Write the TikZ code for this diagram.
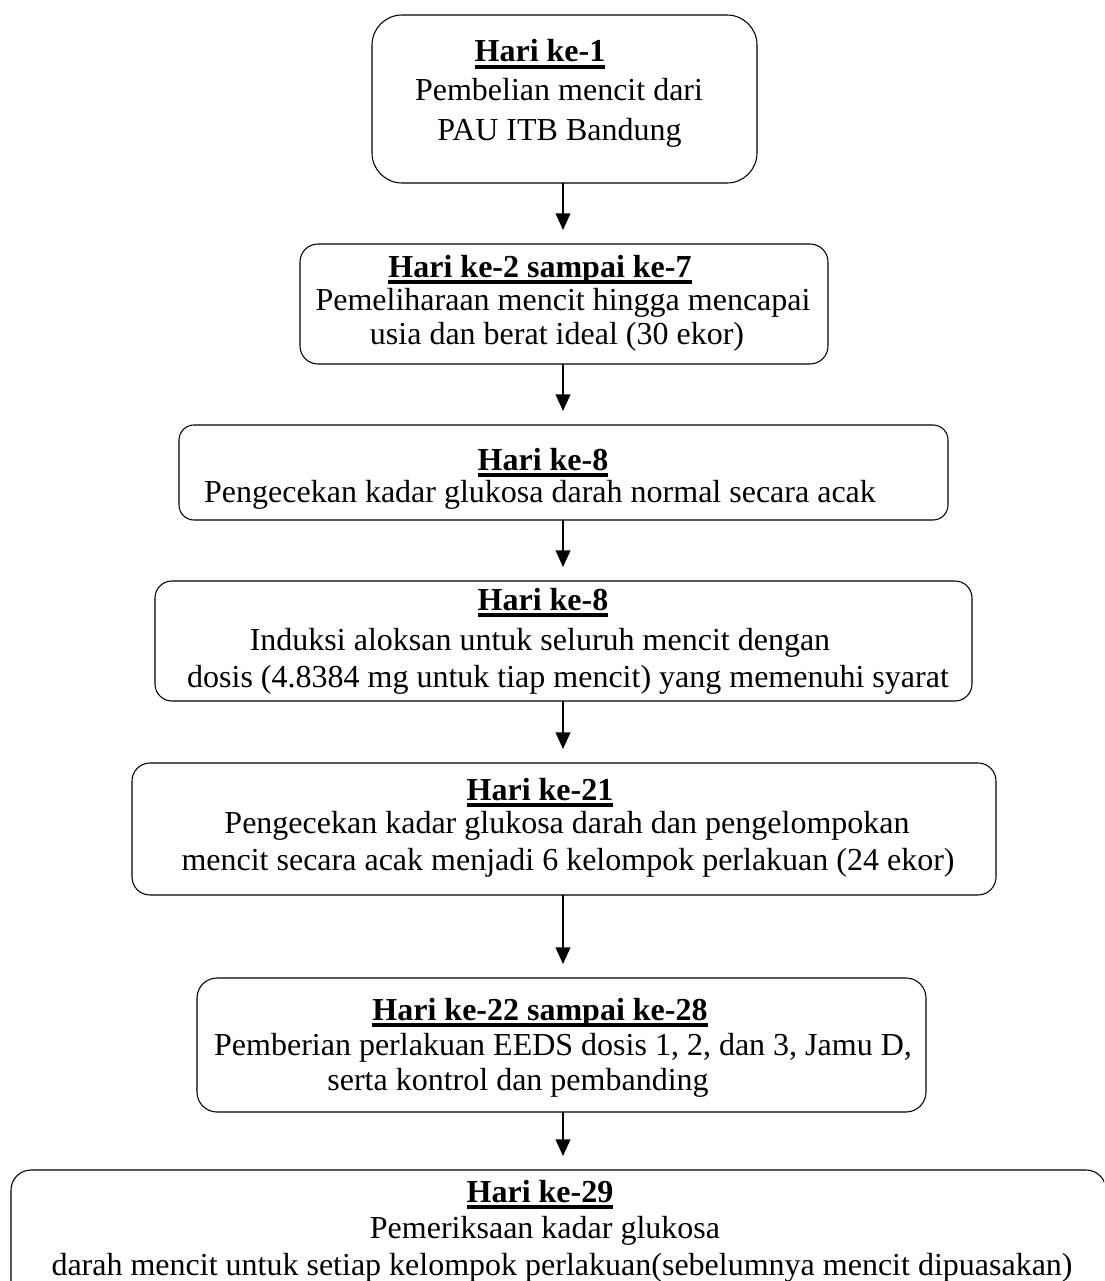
\documentclass[tikz,border=0pt]{standalone}
\usepackage{fontspec}
\setmainfont{Liberation Serif}
\usetikzlibrary{arrows.meta}
\newcommand\hdrul[1]{\setbox0=\hbox{\bfseries #1}\rlap{\rule[-4.9pt]{\wd0}{2.3pt}}\box0}
\begin{document}
\begin{tikzpicture}[x=0.75pt,y=-0.75pt,
  box/.style={draw=black, line width=0.8pt, inner sep=0pt, outer sep=0pt},
  txt/.style={anchor=base, inner sep=0pt, outer sep=0pt, font=\fontsize{24}{28}\selectfont},
  arr/.style={line width=1.5pt, -{Triangle[width=11pt,length=12.5pt]}, shorten >=10.5pt}]
\useasboundingbox (0,0) rectangle (1104,1281);
\fill[white] (0,0) rectangle (1104,1281);
\coordinate (ax) at (563,0);

% Box 1
\node[box, rounded corners=22.5pt, minimum width=288.75pt, minimum height=126pt] (b1) at (564.5,99) {};
\node[txt] (b1h) at (540,62) {\hdrul{Hari ke-1}};
\node[txt] (b1a) at (559,100) {Pembelian mencit dari};
\node[txt] (b1b) at (559.5,140) {PAU ITB Bandung};

% Box 2
\node[box, rounded corners=13.5pt, minimum width=396pt, minimum height=90pt] (b2) at (564,304) {};
\node[txt] (b2h) at (540,277) {\hdrul{Hari ke-2 sampai ke-7}};
\node[txt] (b2a) at (563,310) {Pemeliharaan mencit hingga mencapai};
\node[txt] (b2b) at (557,344) {usia dan berat ideal (30 ekor)};

% Box 3
\node[box, rounded corners=11.25pt, minimum width=576.75pt, minimum height=71.25pt] (b3) at (563.5,472.5) {};
\node[txt] (b3h) at (543,470) {\hdrul{Hari ke-8}};
\node[txt] (b3a) at (540,502) {Pengecekan kadar glukosa darah normal secara acak};

% Box 4
\node[box, rounded corners=12.75pt, minimum width=612.75pt, minimum height=90pt] (b4) at (563.5,641) {};
\node[txt] (b4h) at (543,610) {\hdrul{Hari ke-8}};
\node[txt] (b4a) at (540,650) {Induksi aloksan untuk seluruh mencit dengan};
\node[txt] (b4b) at (568,687) {dosis (4.8384 mg untuk tiap mencit) yang memenuhi syarat};

% Box 5
\node[box, rounded corners=13.5pt, minimum width=648pt, minimum height=99pt] (b5) at (564,829) {};
\node[txt] (b5h) at (540,800) {\hdrul{Hari ke-21}};
\node[txt] (b5a) at (567,833) {Pengecekan kadar glukosa darah dan pengelompokan};
\node[txt] (b5b) at (568,870) {mencit secara acak menjadi 6 kelompok perlakuan (24 ekor)};

% Box 6
\node[box, rounded corners=15pt, minimum width=546.75pt, minimum height=100.5pt] (b6) at (561.5,1045) {};
\node[txt] (b6h) at (540,1020) {\hdrul{Hari ke-22 sampai ke-28}};
\node[txt] (b6a) at (563,1055) {Pemberian perlakuan EEDS dosis 1, 2, dan 3, Jamu D,};
\node[txt] (b6b) at (518,1090) {serta kontrol dan pembanding};

% Box 7 (cut by the page edge)
\begin{scope}
\clip (0,0) rectangle (1104,1281);
\node[box, rounded corners=15pt, minimum width=821.25pt, minimum height=105pt] (b7) at (558.5,1240) {};
\end{scope}
\node[txt] (b7h) at (540,1202) {\hdrul{Hari ke-29}};
\node[txt] (b7a) at (545,1238) {Pemeriksaan kadar glukosa};
\node[txt] (b7b) at (562,1275) {darah mencit untuk setiap kelompok perlakuan(sebelumnya mencit dipuasakan)};

% Arrows
\draw[arr] (b1.south -| ax) -- (b2.north -| ax);
\draw[arr] (b2.south -| ax) -- (b3.north -| ax);
\draw[arr] (b3.south -| ax) -- (b4.north -| ax);
\draw[arr] (b4.south -| ax) -- (b5.north -| ax);
\draw[arr] (b5.south -| ax) -- (b6.north -| ax);
\draw[arr] (b6.south -| ax) -- (b7.north -| ax);
\end{tikzpicture}
\end{document}
